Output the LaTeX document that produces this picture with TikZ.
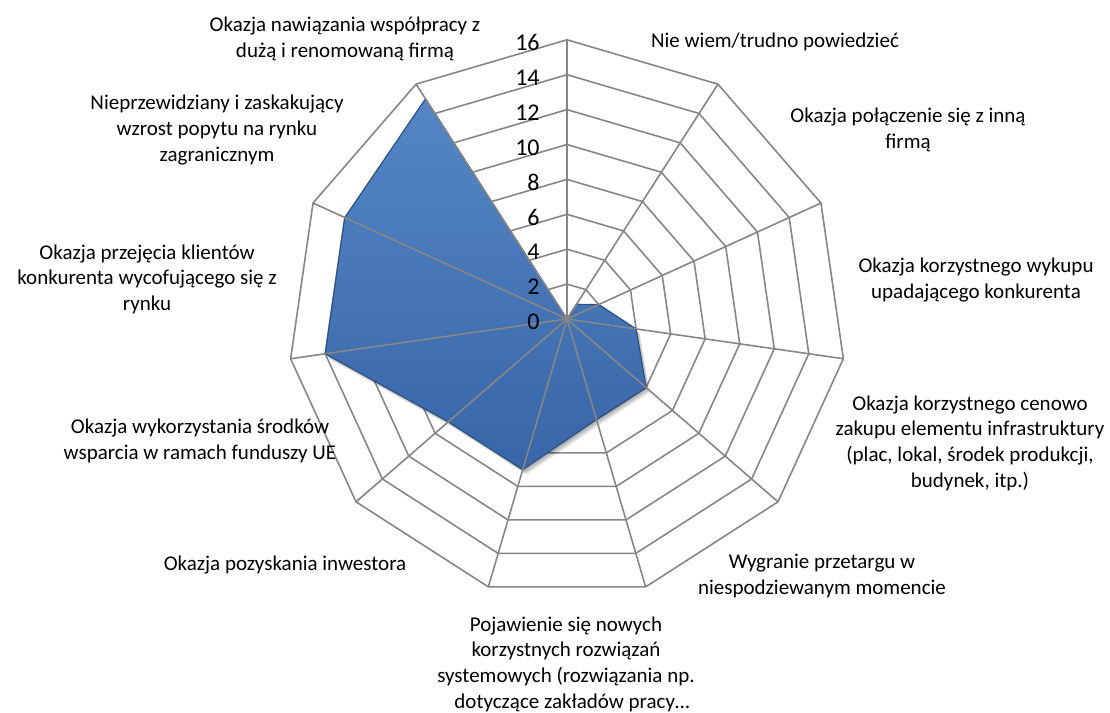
\documentclass[tikz,border=0pt]{standalone}
\usepackage{fontspec}
\setmainfont{Carlito}
\usepackage{tikz}

\definecolor{gridgray}{RGB}{134,134,134}
\definecolor{serieslight}{RGB}{84,134,198}
\definecolor{seriesdark}{RGB}{56,102,168}

\tikzset{
  gridline/.style={draw=gridgray, line width=0.8pt, line join=round},
  spoke/.style={draw=gridgray, line width=0.8pt},
  series/.style={top color=serieslight, bottom color=seriesdark, draw=seriesdark!80!black, line width=0.6pt, line join=round},
  seriesshadow/.style={fill=black, opacity=0.12},
  catlabel/.style={align=center, inner sep=0pt, font=\fontsize{10.5}{12.8}\selectfont},
  ticklabel/.style={anchor=east, inner sep=0pt, font=\fontsize{12}{14}\selectfont},
}

\begin{document}
\begin{tikzpicture}[x=0.5pt, y=-0.5pt]
\useasboundingbox (0,0) rectangle (1110,713);
\coordinate (c) at (567,319);

\begin{scope}[shift={(c)}]
% rings, every 2
\foreach \v in {2,4,...,16}
  \draw[gridline] (-90:{\v*17.45}) \foreach \i in {1,...,10} { -- ({\i*360/11-90}:{\v*17.45}) } -- cycle;
% outer ends of the spokes
\foreach \i in {0,...,10}
  \coordinate (v\i) at ({\i*360/11-90}:279.2);

% series
\foreach \d in {2,4,6}
  \fill[seriesshadow, shift={(\d*0.6,\d*0.8)}] (-90:0) \foreach \val [count=\i from 1] in {1,2,4,6,6,9,9,14,14,15} { -- ({\i*360/11-90}:{\val*17.45}) } -- cycle;
\path[series] (-90:0) \foreach \val [count=\i from 1] in {1,2,4,6,6,9,9,14,14,15} { -- ({\i*360/11-90}:{\val*17.45}) } -- cycle;
\end{scope}

\foreach \i in {0,...,10}
  \draw[spoke] (c) -- (v\i);

% axis values
\foreach \v in {0,2,...,16}
  \node[ticklabel] (t\v) at (540,{322-17.45*\v}) {\v};

% categories
\node[catlabel] (l0) at (775,42) {Nie wiem/trudno powiedzieć};
\node[catlabel] (l1) at (908,130) {Okazja połączenie się z inną\\firmą};
\node[catlabel] (l2) at (976,280) {Okazja korzystnego wykupu\\upadającego konkurenta};
\node[catlabel] (l3) at (970,443) {Okazja korzystnego cenowo\\zakupu elementu infrastruktury\\(plac, lokal, środek produkcji,\\budynek, itp.)};
\node[catlabel] (l4) at (822,576) {Wygranie przetargu w\\niespodziewanym momencie};
\node[catlabel] (l5) at (566,664) {Pojawienie się nowych\\korzystnych rozwiązań\\systemowych (rozwiązania np.\hspace*{10pt}\\\hspace*{6pt}dotyczące zakładów pracy…};
\node[catlabel] (l6) at (285,565) {Okazja pozyskania inwestora};
\node[catlabel] (l7) at (200,441) {Okazja wykorzystania środków\\wsparcia w ramach funduszy UE};
\node[catlabel] (l8) at (147,279) {Okazja przejęcia klientów\\konkurenta wycofującego się z\\rynku};
\node[catlabel] (l9) at (217,130) {Nieprzewidziany i zaskakujący\\wzrost popytu na rynku\\zagranicznym};
\node[catlabel] (l10) at (345,39) {Okazja nawiązania współpracy z\\dużą i renomowaną firmą};
\end{tikzpicture}
\end{document}
